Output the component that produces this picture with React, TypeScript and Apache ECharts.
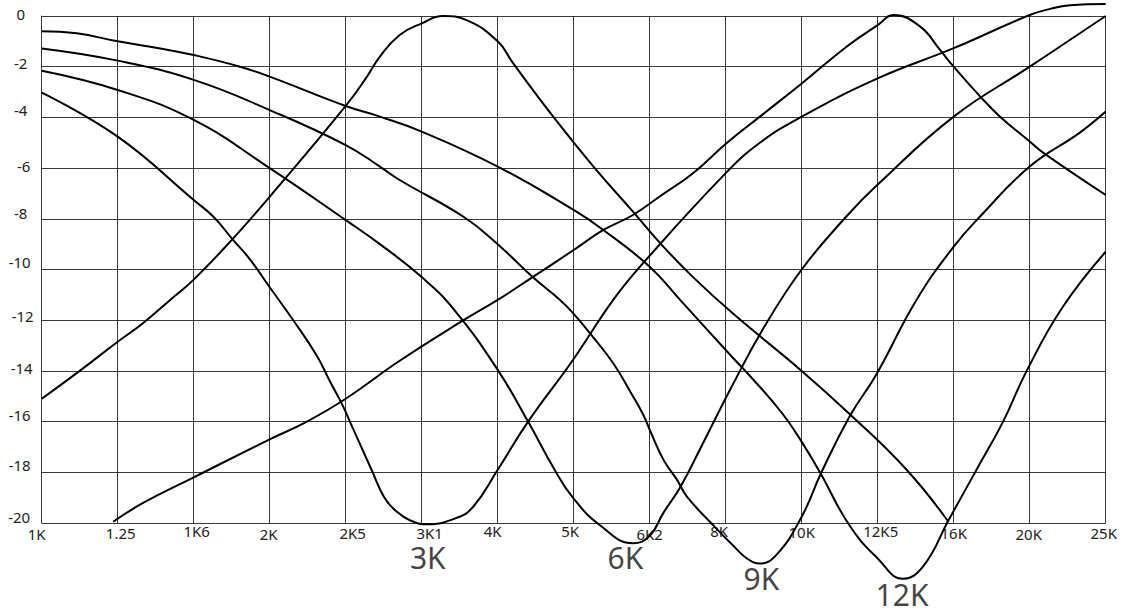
import React, { useEffect, useRef } from "react";
import * as echarts from "echarts";

// x positions are in third-octave steps from 1K (0) to 25K (14)
const xTickLabels = ["1K", "1.25", "1K6", "2K", "2K5", "3K1", "4K", "5K", "6K2", "8K", "10K", "12K5", "16K", "20K", "25K"];

const dipLabels = ["3K", "6K", "9K", "12K"];
const dipLabelPoints: number[][] = [
  [5.08, -21.36],
  [7.68, -21.36],
  [9.47, -22.17],
  [11.32, -22.84],
];

const curveA: number[][] = [
  [0, -0.6], [0.46, -0.68], [1, -1.0], [1.56, -1.28], [2, -1.54], [2.61, -2.0], [3, -2.39],
  [4, -3.55], [4.45, -3.97], [5, -4.56], [6, -5.94], [7, -7.65], [7.39, -8.44], [8, -9.89],
  [8.4, -11.2], [9.1, -13.5], [9.32, -14.2], [9.75, -15.7], [10, -16.8], [10.24, -18.0],
  [10.63, -20.1], [11, -21.4], [11.33, -22.2], [11.6, -21.7], [11.93, -19.9], [12.3, -17.9],
  [12.65, -16.0], [12.96, -14.0], [13.43, -11.5], [14, -9.3],
];

const curveB: number[][] = [
  [0, -1.28], [1, -1.76], [2, -2.52], [3, -3.71], [4, -5.09], [4.45, -5.94], [4.71, -6.47],
  [5.55, -7.92], [6, -9.0], [6.46, -10.3], [6.82, -11.2], [7.0, -11.75], [7.21, -12.5],
  [7.52, -13.7], [7.76, -14.9], [7.91, -15.7], [8.02, -16.46], [8.18, -17.5], [8.36, -18.3],
  [8.49, -18.96], [8.84, -20.1], [9.1, -20.9], [9.28, -21.4], [9.45, -21.6], [9.67, -21.25],
  [10, -19.75], [10.26, -18.0], [10.63, -15.8], [10.99, -14.1], [11.51, -11.2], [12, -9.1],
  [12.35, -7.9], [13, -5.94], [13.66, -4.6], [14, -3.77],
];

const curveC: number[][] = [
  [0, -2.16], [1, -2.92], [2, -4.1], [3, -6.0], [4, -8.05], [4.45, -9.0], [5, -10.3],
  [5.43, -11.6], [6, -13.96], [6.4, -16.0], [6.73, -17.8], [6.99, -19.0], [7.35, -20.1],
  [7.78, -20.8], [8.0, -20.5], [8.18, -19.6], [8.4, -18.6], [8.66, -17.1], [9.1, -14.5],
  [9.5, -12.3], [10, -10.0], [10.59, -7.9], [11, -6.65], [12, -3.97], [13, -2.0], [14, 0],
];

const curveD: number[][] = [
  [0, -3.02], [1, -4.76], [2, -7.26], [2.26, -7.92], [2.52, -8.84], [2.74, -9.6], [3, -10.7],
  [3.31, -12.0], [3.62, -13.4], [3.79, -14.4], [3.95, -15.3], [4.1, -16.3], [4.19, -16.9],
  [4.34, -17.9], [4.51, -19.0], [4.67, -19.55], [4.85, -19.9], [5.07, -20.05], [5.46, -19.8],
  [5.68, -19.35], [6, -17.9], [6.4, -16.0], [6.99, -13.57], [7.52, -11.2], [7.91, -9.76],
  [9, -6.2], [9.45, -5.0], [10, -3.97], [11, -2.46], [12, -1.27], [13, 0.04], [13.27, 0.28],
  [13.53, 0.42], [14, 0.47],
];

const curvePeak3K: number[][] = [
  [0, -15.1], [0.5, -14.0], [1, -12.85], [1.34, -12.1], [1.69, -11.2], [2, -10.4],
  [2.52, -8.77], [3, -7.13], [4, -3.55], [4.28, -2.39], [4.45, -1.6], [4.71, -0.75],
  [5, -0.29], [5.28, 0], [5.59, -0.16], [6, -1.0], [6.2, -1.85], [6.73, -3.97], [7.26, -5.94],
  [7.78, -7.72], [8.14, -8.97], [8.57, -10.3], [9.1, -11.75], [10, -14.0],
  [10.63, -15.7], [11.38, -17.9], [11.93, -19.95],
];

const curvePeak12K: number[][] = [
  [0.94, -19.95], [1.34, -19.2], [2, -18.2], [3, -16.7], [3.49, -16.0], [4, -15.1],
  [4.71, -13.6], [5.55, -12.0], [6, -11.2], [6.46, -10.3], [7, -9.23], [7.39, -8.44],
  [7.78, -7.85], [8.14, -7.1], [8.57, -6.2], [9.01, -5.02], [9.45, -3.97], [10, -2.66],
  [10.59, -1.21], [11, -0.36], [11.21, 0.04], [11.56, -0.42], [11.82, -1.34], [12, -2.0],
  [12.35, -3.18], [12.61, -3.97], [13, -4.95], [13.18, -5.4], [14, -7.06],
];

const curves = [curveA, curveB, curveC, curveD, curvePeak3K, curvePeak12K];

// label nudges (style only): [dx, dy] in pixels
const xLabelNudge = [
  [-5, 3.5], [3, 2], [3, 0], [-1, 3.5], [7, 2.5], [8, 2], [-5, 0], [-3.5, 0],
  [0, 3.5], [-6.5, 0], [0, 1], [3, 0], [0, 2], [-1, 3.5], [-2, 2],
];
const yLabelNudge = [
  [0, 2], [0, 4], [0, 7], [3, 2], [0, 6], [-1, 7.5], [2, 4], [1, 3], [-1, 6.5], [-1, 7], [-1.5, 6],
];

const FONT = "'Noto Sans', 'Open Sans', sans-serif";

export default function App() {
  const ref = useRef<HTMLDivElement>(null);
  useEffect(() => {
    if (!ref.current) return;
    const chart = echarts.init(ref.current, null, { renderer: "svg" });

    const xRich: Record<string, any> = {};
    xLabelNudge.forEach(([dx, dy], i) => {
      xRich["x" + i] = {
        fontSize: 15,
        fontFamily: FONT,
        color: "#222",
        padding: [dy, Math.max(0, -2 * dx), 0, Math.max(0, 2 * dx)],
      };
    });
    const yRich: Record<string, any> = {};
    yLabelNudge.forEach(([dx, dy], i) => {
      yRich["y" + i] = {
        fontSize: 15,
        fontFamily: FONT,
        color: "#222",
        padding: [0, Math.max(0, -2 * dx), 2 * dy, Math.max(0, 2 * dx)],
      };
    });

    const option: any = {
      animation: false,
      backgroundColor: "#fff",
      grid: { left: 41.7, right: 21.3, top: 16, bottom: 90, containLabel: false },
      xAxis: {
        type: "value",
        min: 0,
        max: xTickLabels.length - 1,
        interval: 1,
        axisLine: { show: true, lineStyle: { color: "#3a3a3a", width: 1 } },
        axisTick: { show: false },
        splitLine: { show: true, lineStyle: { color: "#3a3a3a", width: 1 } },
        axisLabel: {
          margin: 0,
          verticalAlign: "top",
          formatter: (v: number) => {
            const i = Math.round(v);
            return "{x" + i + "|" + xTickLabels[i] + "}";
          },
          rich: xRich,
        },
      },
      yAxis: {
        type: "value",
        min: -20,
        max: 0,
        interval: 2,
        axisLine: { show: true, lineStyle: { color: "#3a3a3a", width: 1 } },
        axisTick: { show: false },
        splitLine: { show: true, lineStyle: { color: "#3a3a3a", width: 1 } },
        axisLabel: {
          margin: 21,
          align: "center",
          formatter: (v: number) => {
            const i = Math.round(-v / 2);
            return "{y" + i + "|" + v + "}";
          },
          rich: yRich,
        },
      },
      series: [
        ...curves.map((c) => ({
          type: "line",
          data: c,
          showSymbol: false,
          smooth: 0.45,
          clip: false,
          silent: true,
          lineStyle: { color: "#000", width: 2 },
        })),
        {
          type: "scatter",
          clip: false,
          symbolSize: 1,
          itemStyle: { color: "rgba(0,0,0,0)" },
          data: dipLabelPoints.map((p, i) => ({ value: p, name: dipLabels[i] })),
          label: {
            show: true,
            position: "inside",
            formatter: "{b}",
            fontSize: 30,
            lineHeight: 26,
            fontFamily: FONT,
            color: "#111",
          },
        },
      ],
    };
    chart.setOption(option);
    return () => chart.dispose();
  }, []);
  return (
    <div
      ref={ref}
      style={{ position: "absolute", left: 0, top: 0, width: 1127, height: 613 }}
    />
  );
}
